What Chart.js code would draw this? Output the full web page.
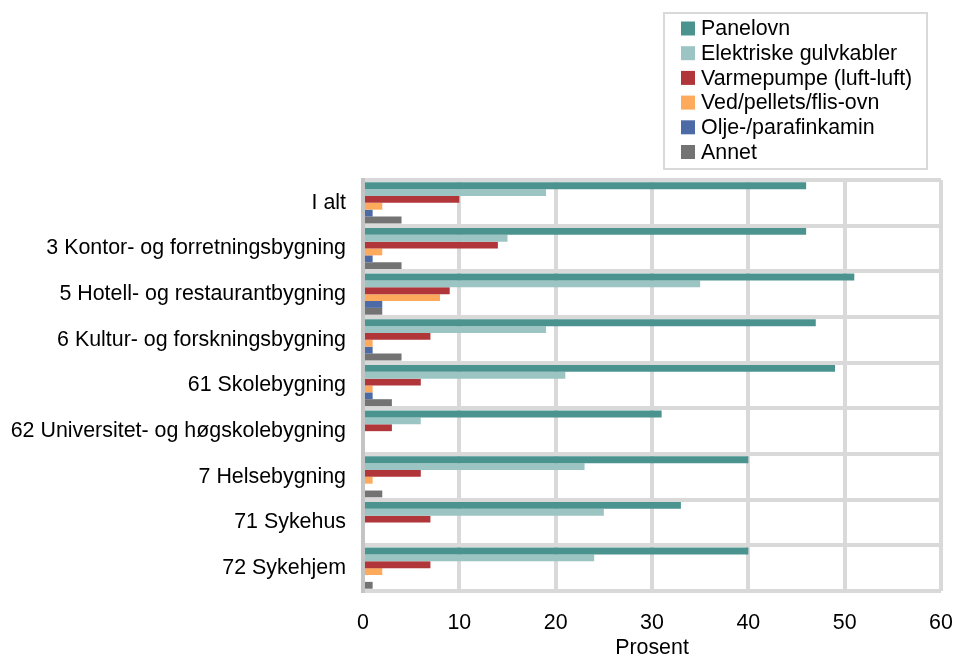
<!DOCTYPE html>
<html>
<head>
<meta charset="utf-8">
<script src="https://cdn.jsdelivr.net/npm/chart.js@4/dist/chart.umd.min.js"></script>
<style>
  html, body { margin: 0; padding: 0; background: #ffffff; }
  canvas { display: block; }
</style>
</head>
<body>
<canvas id="c" width="963" height="659"></canvas>
<script>
// Building categories (y axis)
const categories = [
  'I alt',
  '3 Kontor- og forretningsbygning',
  '5 Hotell- og restaurantbygning',
  '6 Kultur- og forskningsbygning',
  '61 Skolebygning',
  '62 Universitet- og høgskolebygning',
  '7 Helsebygning',
  '71 Sykehus',
  '72 Sykehjem'
];

// Share of buildings per heating source, percent
const panelovn   = [46, 46, 51, 47, 49, 31, 40, 33, 40];
const gulvkabler = [19, 15, 35, 19, 21,  6, 23, 25, 24];
const varmepumpe = [10, 14,  9,  7,  6,  3,  6,  7,  7];
const vedovn     = [ 2,  2,  8,  1,  1,  0,  1,  0,  2];
const oljekamin  = [ 1,  1,  2,  1,  1,  0,  0,  0,  0];
const annet      = [ 4,  4,  2,  4,  3,  0,  2,  0,  1];

const seriesNames = [
  'Panelovn',
  'Elektriske gulvkabler',
  'Varmepumpe (luft-luft)',
  'Ved/pellets/flis-ovn',
  'Olje-/parafinkamin',
  'Annet'
];
const seriesColors = ['#4b938f', '#9bc4c3', '#b0363a', '#fdaa5c', '#4c6aa6', '#737373'];
const seriesValues = [panelovn, gulvkabler, varmepumpe, vedovn, oljekamin, annet];

// X axis range
const xMin = 0, xMax = 60, xStep = 10;

const FONT = '"Liberation Sans", Arial, Helvetica, sans-serif';
const FONT_SIZE = 21.4;

// Boxed legend in the upper right, one entry per row
const boxLegend = {
  id: 'boxLegend',
  afterDraw(chart) {
    const ctx = chart.ctx;
    const left = 664, top = 13, w = 263, h = 156;
    ctx.save();
    ctx.strokeStyle = '#d9d9d9';
    ctx.lineWidth = 2;
    ctx.strokeRect(left, top, w, h);
    ctx.font = FONT_SIZE + 'px ' + FONT;
    ctx.textBaseline = 'middle';
    ctx.textAlign = 'left';
    chart.data.datasets.forEach((ds, i) => {
      const cy = 28.5 + i * 24.7;
      ctx.fillStyle = ds.backgroundColor;
      ctx.fillRect(681, cy - 7, 14, 14);
      ctx.fillStyle = '#000000';
      ctx.fillText(ds.label, 701, cy + 1);
    });
    ctx.restore();
  }
};

new Chart(document.getElementById('c'), {
  type: 'bar',
  data: {
    labels: categories,
    datasets: seriesNames.map((name, i) => ({
      label: name,
      data: seriesValues[i],
      backgroundColor: seriesColors[i],
      borderWidth: 0,
      categoryPercentage: 0.9,
      barPercentage: 1.0
    }))
  },
  options: {
    indexAxis: 'y',
    responsive: false,
    animation: false,
    layout: { padding: { top: 180, right: 22, bottom: 0, left: 0 } },
    plugins: {
      legend: { display: false },
      tooltip: { enabled: false }
    },
    scales: {
      x: {
        min: xMin,
        max: xMax,
        ticks: {
          stepSize: xStep,
          padding: 19,
          color: '#000000',
          font: { family: FONT, size: FONT_SIZE }
        },
        grid: {
          color: '#d9d9d9',
          lineWidth: 4,
          drawTicks: false
        },
        border: { display: false },
        title: {
          display: true,
          text: 'Prosent',
          color: '#000000',
          font: { family: FONT, size: FONT_SIZE, lineHeight: 1 },
          padding: { top: 0, bottom: 0 }
        },
        afterFit(scale) {
          scale.height = 68;
          scale.paddingLeft = 0;
          scale.paddingRight = 0;
        }
      },
      y: {
        ticks: {
          padding: 17,
          color: '#000000',
          font: { family: FONT, size: FONT_SIZE }
        },
        grid: {
          color: '#d9d9d9',
          lineWidth: 4,
          offset: true,
          drawTicks: false
        },
        border: { display: true, color: '#c4c4c4', width: 4 },
        afterFit(scale) { scale.width = 363; }
      }
    }
  },
  plugins: [boxLegend]
});
</script>
</body>
</html>
